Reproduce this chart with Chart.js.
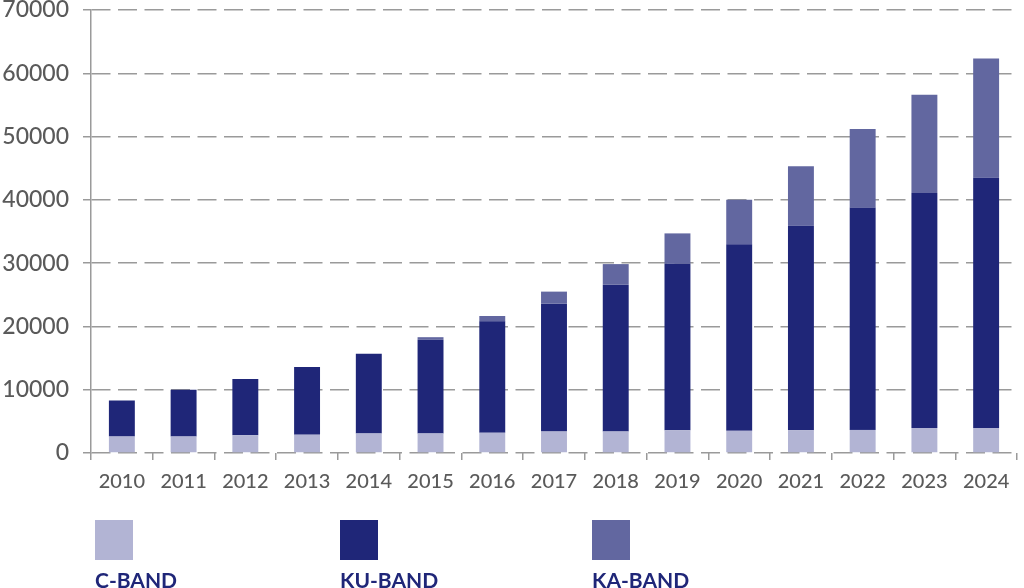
<!DOCTYPE html>
<html>
<head>
<meta charset="utf-8">
<script src="https://cdn.jsdelivr.net/npm/chart.js@4/dist/chart.umd.min.js"></script>
<style>
html,body{margin:0;padding:0;background:#fff;width:1024px;height:588px;overflow:hidden}
#wrap{position:relative;width:1024px;height:588px}
#c{position:absolute;left:0;top:0}
.leg{position:absolute;top:520px;font-family:Lato,sans-serif;font-weight:700;font-size:21px;line-height:21px;color:#1f2678;white-space:nowrap}
.leg .box{width:38px;height:40px}
.leg .lbl{margin-top:9.4px}
</style>
</head>
<body>
<div id="wrap">
  <canvas id="c" width="1024" height="588"></canvas>
</div>
<script>
const years = ['2010','2011','2012','2013','2014','2015','2016','2017','2018','2019','2020','2021','2022','2023','2024'];
const cBand  = [2600,2600,2800,2900,3100,3100,3200,3400,3400,3600,3500,3600,3650,3950,3950];
const kuBand = [5680,7400,8900,10700,12600,14800,17600,20200,23200,26300,29500,32300,35150,37150,39550];
const kaBand = [0,0,0,0,0,400,850,1900,3250,4800,7000,9400,12400,15500,18850];
const yTicks = [0,10000,20000,30000,40000,50000,60000,70000];
const seriesNames = ['C-BAND','KU-BAND','KA-BAND'];
const seriesColors = ['#b2b4d4','#1f2678','#6267a0'];
const legendX = [95,340,592];

function build(){
  const ctx = document.getElementById('c').getContext('2d');
  new Chart(ctx, {
    type: 'bar',
    data: {
      labels: years,
      datasets: [
        {label: seriesNames[0], data: cBand, backgroundColor: seriesColors[0]},
        {label: seriesNames[1], data: kuBand, backgroundColor: seriesColors[1]},
        {label: seriesNames[2], data: kaBand, backgroundColor: seriesColors[2]}
      ]
    },
    options: {
      responsive: false,
      animation: false,
      events: [],
      barPercentage: 0.42,
      categoryPercentage: 1.0,
      layout: {padding: {top: 0, right: 7, left: 0, bottom: 0}},
      plugins: {legend: {display: false}, tooltip: {enabled: false}},
      scales: {
        x: {
          stacked: true,
          afterFit: (s) => { s.height = 135; },
          grid: {display: true, offset: true, drawOnChartArea: false, drawTicks: true, tickLength: 7, color: '#9a9a9a', lineWidth: 1.5},
          border: {display: false},
          ticks: {color: '#5a5a5a', font: {family: 'Lato', size: 20, weight: '500'}, padding: 10, maxRotation: 0, autoSkip: false}
        },
        y: {
          stacked: true,
          min: 0,
          max: 70000,
          afterFit: (s) => { s.width = 91; s.paddingTop = 10; s.paddingBottom = 0; },
          afterBuildTicks: (s) => { s.ticks = yTicks.map(v => ({value: v})); },
          grid: {color: '#9a9a9a', lineWidth: 1.5, tickLength: 8, drawTicks: true},
          border: {display: true, color: '#9a9a9a', width: 1.5, dash: [19, 7.5]},
          ticks: {color: '#5a5a5a', font: {family: 'Lato', size: 23, weight: '500'}, padding: 14, callback: (v) => String(v)}
        }
      }
    }
  });
  const wrap = document.getElementById('wrap');
  seriesNames.forEach((n, i) => {
    const d = document.createElement('div');
    d.className = 'leg';
    d.style.left = legendX[i] + 'px';
    const b = document.createElement('div');
    b.className = 'box';
    b.style.background = seriesColors[i];
    const l = document.createElement('div');
    l.className = 'lbl';
    l.textContent = n;
    d.appendChild(b); d.appendChild(l);
    wrap.appendChild(d);
  });
}
if (document.fonts && document.fonts.load) {
  Promise.all([document.fonts.load('500 20px Lato'), document.fonts.load('bold 21px Lato')]).then(build, build);
} else build();
</script>
</body>
</html>
